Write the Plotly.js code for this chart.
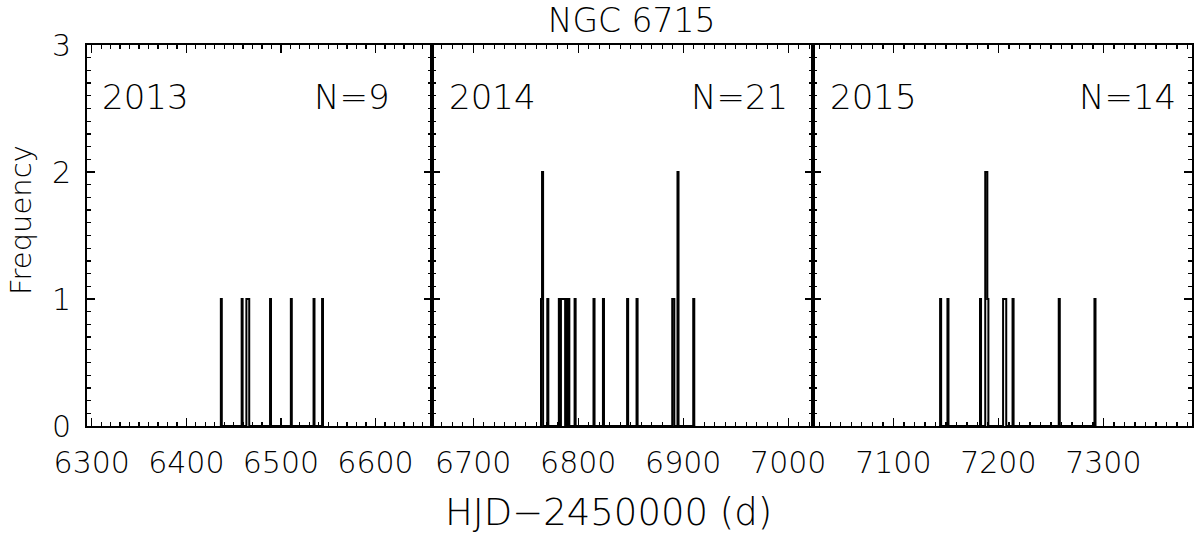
<!DOCTYPE html>
<html>
<head>
<meta charset="utf-8">
<script src="https://cdn.plot.ly/plotly-3.0.1.min.js"></script>
<style>html,body{margin:0;padding:0;background:#fff;}#chart{width:1200px;height:543px;}</style>
</head>
<body>
<div id="chart"></div>
<script>
// Observation days (HJD-2450000) and number of frames per day, per season
const days2013 = [6437, 6459, 6464, 6465, 6466, 6489, 6511, 6535, 6544];
const counts2013 = [1, 1, 1, 1, 1, 1, 1, 1, 1];
const days2014 = [6765, 6766, 6771, 6782, 6784, 6785, 6786, 6787, 6789, 6791, 6797, 6815, 6824, 6847, 6856, 6890, 6891, 6895, 6910];
const counts2014 = [1, 2, 1, 1, 1, 1, 1, 1, 1, 1, 1, 1, 1, 1, 1, 1, 1, 2, 1];
const days2015 = [7145, 7152, 7183, 7188, 7189, 7190, 7205, 7206, 7207, 7214, 7258, 7292];
const counts2015 = [1, 1, 1, 2, 2, 1, 1, 1, 1, 1, 1, 1];

const seasonLabels = ["2013", "2014", "2015"];
const nLabels = ["N=9", "N=21", "N=14"];
const xRanges = [[6295.0, 6659.4], [6660.4, 7023.1], [7023.0, 7384.4]];
const xTicks = [[6300, 6400, 6500, 6600], [6700, 6800, 6900, 7000], [7100, 7200, 7300]];
const yTicks = [0, 1, 2, 3];

// build step outline from daily counts (bin width 1 day)
function stepTrace(days, counts, xa, ya) {
  const map = {};
  days.forEach((d, i) => { map[d] = (map[d] || 0) + counts[i]; });
  const lo = Math.min(...days) - 1, hi = Math.max(...days) + 1;
  const x = [], y = [];
  for (let d = lo; d <= hi; d++) {
    x.push(d - 0.5);
    y.push(map[d] || 0);
  }
  x.push(hi + 0.5); y.push(0);
  return {x: x, y: y, type: 'scatter', mode: 'lines', line: {shape: 'hv', color: '#000', width: 2},
          xaxis: xa, yaxis: ya, hoverinfo: 'skip', showlegend: false};
}

const traces = [
  stepTrace(days2013, counts2013, 'x', 'y'),
  stepTrace(days2014, counts2014, 'x2', 'y2'),
  stepTrace(days2015, counts2015, 'x3', 'y3')
];

const L = 87, R = 1192, T = 45, B = 426;
const W = R - L, H = B - T;
const edges = [87, 431.7, 812.5, 1192];
const FONT = 'DejaVu Sans';

function xaxis(i) {
  return {
    domain: [(edges[i] - L) / W, (edges[i + 1] - L) / W],
    range: xRanges[i], anchor: i === 0 ? 'y' : 'y' + (i + 1),
    showline: true, linecolor: '#000', linewidth: 2, mirror: 'ticks',
    ticks: 'inside', ticklen: 8, tickwidth: 1.5, tickcolor: '#000',
    tickvals: xTicks[i], ticktext: xTicks[i].map(String),
    minor: {dtick: 10, tick0: 6300, ticks: 'inside', ticklen: 4, tickwidth: 1.3, tickcolor: '#000', showgrid: false},
    showgrid: false, zeroline: false,
    tickfont: {family: FONT, size: 30, color: '#000', weight: 300},
    ticklabelstandoff: 9
  };
}
function yaxis(i) {
  return {
    domain: [0, 1], range: [0, 3], anchor: i === 0 ? 'x' : 'x' + (i + 1),
    showline: true, linecolor: '#000', linewidth: 2, mirror: 'ticks',
    ticks: 'inside', ticklen: 8, tickwidth: 1.5, tickcolor: '#000',
    tickvals: yTicks, ticktext: yTicks.map(String),
    minor: {dtick: 0.1, ticks: 'inside', ticklen: 4, tickwidth: 1.3, tickcolor: '#000', showgrid: false},
    showgrid: false, zeroline: false, showticklabels: i === 0,
    tickfont: {family: FONT, size: 30, color: '#000', weight: 300},
    ticklabelstandoff: 8
  };
}

const px = v => (v - L) / W;
const py = v => (B - v) / H;
const annFont = {family: FONT, size: 34, color: '#000', weight: 300};
const leftPos = [100, 446.7, 828];
const rightPos = [392, 790, 1178];
const annotations = [];
for (let i = 0; i < 3; i++) {
  annotations.push({xref: 'paper', yref: 'paper', x: px(leftPos[i]), y: py(97), xanchor: 'left', yanchor: 'middle',
    text: seasonLabels[i], showarrow: false, font: annFont});
  annotations.push({xref: 'paper', yref: 'paper', x: px(rightPos[i]), y: py(97), xanchor: 'right', yanchor: 'middle',
    text: nLabels[i], showarrow: false, font: annFont});
}
annotations.push({xref: 'paper', yref: 'paper', x: px(608.5), y: py(512), xanchor: 'center', yanchor: 'middle',
  text: 'HJD\u22122450000 (d)', showarrow: false, font: {family: FONT, size: 37, color: '#000', weight: 300}});
annotations.push({xref: 'paper', yref: 'paper', x: px(21), y: py(220), xanchor: 'center', yanchor: 'middle',
  text: 'Frequency', textangle: -90, showarrow: false, font: {family: FONT, size: 29, color: '#000', weight: 300}});

const layout = {
  width: 1200, height: 543,
  margin: {l: L, r: 1200 - R, t: T, b: 543 - B, pad: 0},
  paper_bgcolor: '#fff', plot_bgcolor: '#fff',
  title: {text: 'NGC 6715', x: 631.7 / 1200, xref: 'container', xanchor: 'center', y: 1 - 20 / 543, yanchor: 'middle',
          font: {family: FONT, size: 33, color: '#000', weight: 300}},
  xaxis: xaxis(0), xaxis2: xaxis(1), xaxis3: xaxis(2),
  yaxis: yaxis(0), yaxis2: yaxis(1), yaxis3: yaxis(2),
  annotations: annotations,
  showlegend: false
};

Plotly.newPlot('chart', traces, layout, {staticPlot: true, displayModeBar: false});
</script>
</body>
</html>
